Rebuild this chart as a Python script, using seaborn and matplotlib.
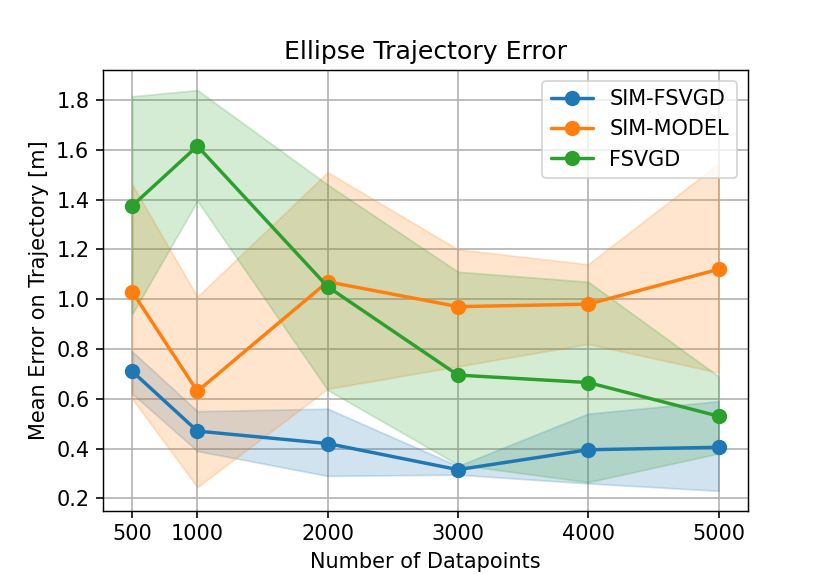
import numpy as np
import pandas as pd
import matplotlib
matplotlib.use('Agg')
import matplotlib.pyplot as plt
import seaborn as sns

# data
n_points = [500, 1000, 2000, 3000, 4000, 5000]
methods = ['SIM-FSVGD', 'SIM-MODEL', 'FSVGD']

sim_fsvgd_mean = [0.71, 0.47, 0.42, 0.315, 0.395, 0.405]
sim_fsvgd_low = [0.62, 0.39, 0.29, 0.295, 0.26, 0.23]
sim_fsvgd_high = [0.79, 0.55, 0.56, 0.33, 0.54, 0.59]

sim_model_mean = [1.03, 0.63, 1.07, 0.97, 0.98, 1.12]
sim_model_low = [0.60, 0.245, 0.64, 0.73, 0.82, 0.705]
sim_model_high = [1.46, 1.01, 1.51, 1.20, 1.14, 1.545]

fsvgd_mean = [1.375, 1.615, 1.05, 0.695, 0.665, 0.53]
fsvgd_low = [0.94, 1.395, 0.635, 0.335, 0.265, 0.38]
fsvgd_high = [1.815, 1.84, 1.46, 1.11, 1.07, 0.69]

means = [sim_fsvgd_mean, sim_model_mean, fsvgd_mean]
lows = [sim_fsvgd_low, sim_model_low, fsvgd_low]
highs = [sim_fsvgd_high, sim_model_high, fsvgd_high]

df = pd.DataFrame({
    'n': n_points * len(methods),
    'err': sum(means, []),
    'method': [m for m in methods for _ in n_points],
})

sns.set_style('white')
plt.rcParams['font.family'] = ['DejaVu Sans']
plt.rcParams.update({'font.size': 11.6, 'text.color': 'black',
                     'axes.labelcolor': 'black', 'xtick.color': 'black',
                     'ytick.color': 'black'})
colors = sns.color_palette('tab10', 3)

fig = plt.figure(figsize=(830 / 130, 574 / 130), dpi=130)
ax = fig.add_axes([0.124, 0.11, 0.777, 0.768])

for m, lo, hi, c in zip(methods, lows, highs, colors):
    ax.fill_between(n_points, lo, hi, color=c, alpha=0.2)

sns.lineplot(data=df, x='n', y='err', hue='method', palette=colors,
             marker='o', markersize=8.5, markeredgewidth=0, linewidth=1.9,
             ax=ax)

ax.set_xticks(n_points)
ax.set_xticklabels([str(v) for v in n_points])
ax.grid(True, color='#b0b0b0', linewidth=0.9)
for s in ax.spines.values():
    s.set_color('black')
ax.tick_params(axis='both', which='both', direction='out', length=4,
               width=0.9, colors='black', labelsize=11.6, bottom=True, left=True)
ax.set_xlabel('Number of Datapoints', fontsize=11.6)
ax.set_ylabel('Mean Error on Trajectory [m]', fontsize=11.6)
ax.set_title('Ellipse Trajectory Error', fontsize=13.9)
leg = ax.legend(loc='upper right', title=None, fontsize=11.6)
leg.get_frame().set_edgecolor('#cccccc')

fig.savefig('out.png', dpi=130)
